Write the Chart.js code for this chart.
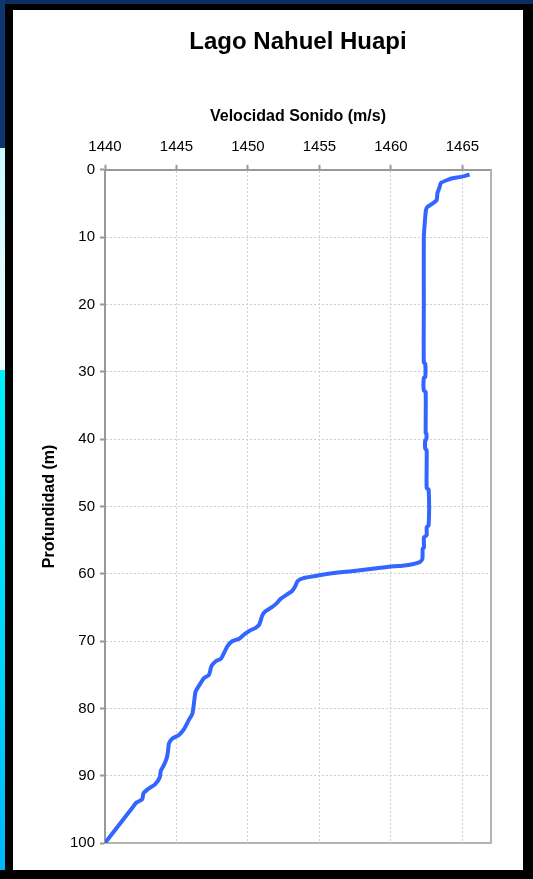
<!DOCTYPE html>
<html lang="es">
<head>
<meta charset="utf-8">
<title>Lago Nahuel Huapi</title>
<script src="https://cdn.jsdelivr.net/npm/chart.js@4.4.1/dist/chart.umd.min.js"></script>
<style>
  body{margin:0;background:#000;width:533px;height:879px;position:relative;overflow:hidden;}
  #franjaTop{position:absolute;left:0;top:0;width:533px;height:4px;background:#0b2d63;}
  #franjaIzq{position:absolute;left:0;top:0;width:5px;height:870px;
    background:linear-gradient(to bottom,#0d3570 0px,#0d3570 148px,#c9f9ff 148px,#effeff 370px,#00f0ff 370px,#00d0ff 700px,#00b4ff 870px);}
  #panel{position:absolute;left:13px;top:10px;width:510px;height:860px;background:#fff;}
</style>
</head>
<body>
<div id="franjaTop"></div>
<div id="franjaIzq"></div>
<div id="panel"><canvas id="graficoPerfil" width="510" height="860"></canvas></div>
<script>
const velocidad = [
  1465.5, 1464.9, 1464.3, 1463.9, 1463.5, 1463.4, 1463.25, 1463.2, 1462.95, 1462.55,
  1462.45, 1462.4, 1462.35, 1462.3, 1462.3, 1462.3, 1462.4, 1462.4, 1462.3, 1462.3,
  1462.43, 1462.43, 1462.48, 1462.48, 1462.4, 1462.4, 1462.5, 1462.5, 1462.64, 1462.64,
  1462.5, 1462.5, 1462.31, 1462.31, 1462.22, 1462.2, 1462.0, 1461.5, 1460.8, 1460.16,
  1459.0, 1457.84, 1456.67, 1455.51, 1454.81, 1453.88, 1453.47, 1453.3, 1453.07, 1452.72,
  1452.3, 1452.0, 1451.65, 1451.2, 1451.0, 1450.8, 1450.56, 1450.09, 1449.74, 1449.39,
  1448.92, 1448.57, 1448.33, 1448.1, 1447.75, 1447.44, 1447.28, 1446.92, 1446.69, 1446.34,
  1446.25, 1446.12, 1445.86, 1445.55, 1445.15, 1444.7, 1444.47, 1444.4, 1444.3, 1444.1,
  1443.9, 1443.83, 1443.5, 1443.1, 1442.7, 1442.6, 1442.2, 1441.9, 1440.0
];
const profundidad = [
  0.7, 1.05, 1.25, 1.55, 1.95, 2.6, 3.5, 4.5, 4.95, 5.5,
  6.0, 7.0, 8.4, 10, 20, 28.6, 28.8, 30.8, 30.9, 32.8,
  33.0, 39.1, 39.2, 40.0, 40.2, 41.4, 41.7, 47.3, 47.5, 52.8,
  53.1, 54.3, 54.6, 56.1, 56.3, 57.8, 58.3, 58.6, 58.8, 58.9,
  59.2, 59.5, 59.75, 60.05, 60.3, 60.65, 61.1, 61.9, 62.6, 63.1,
  63.7, 64.4, 65.0, 65.6, 66.2, 67.5, 68, 68.5, 69, 69.65,
  70, 70.75, 71.75, 72.65, 73, 73.75, 75, 75.5, 76.25, 77.5,
  78.75, 80.75, 81.75, 83, 84, 84.5, 85.25, 86.5, 87.5, 88.5,
  89.3, 90.25, 91.3, 91.85, 92.6, 93.5, 94, 94.8, 100
];

// limites de los ejes
const limitesVelocidad = [1440, 1467];
const limitesProfundidad = [0, 100];

const puntos = velocidad.map((v, i) => ({x: v, y: profundidad[i]}));

const fuente = "'Liberation Sans', Arial, sans-serif";

//marco derecho e inferior del area del grafico
const marco = {
  id: 'marco',
  beforeDatasetsDraw(chart){
    const {ctx, chartArea: a} = chart;
    ctx.save();
    ctx.strokeStyle = '#b4b4b4';
    ctx.lineWidth = 2;
    ctx.beginPath();
    ctx.moveTo(a.right, a.top);
    ctx.lineTo(a.right, a.bottom);
    ctx.lineTo(a.left, a.bottom);
    ctx.stroke();
    ctx.restore();
  }
};

const ctx = document.getElementById('graficoPerfil').getContext('2d');
window.myChart = new Chart(ctx, {
  type: 'scatter',
  data: {
    datasets: [{
      data: puntos,
      showLine: true,
      borderColor: '#3366ff',
      borderWidth: 4,
      pointRadius: 0,
      tension: 0.2
    }]
  },
  options: {
    responsive: false,
    animation: false,
    layout: { padding: { top: 0, left: 0, right: 32, bottom: 27 } },
    plugins: {
      legend: { display: false },
      tooltip: { enabled: false },
      title: {
        display: true,
        fullSize: false,
        text: 'Lago Nahuel Huapi',
        color: '#000',
        font: { family: fuente, size: 24, weight: 'bold' },
        padding: { top: 18, bottom: 10 }
      }
    },
    scales: {
      x: {
        type: 'linear',
        position: 'top',
        min: limitesVelocidad[0],
        max: limitesVelocidad[1],
        afterFit: s => { s.height = 103; },
        ticks: {
          stepSize: 5,
          includeBounds: false,
          color: '#000',
          padding: 9,
          font: { family: fuente, size: 15 },
          callback: v => String(v)
        },
        grid: { color: '#cfcfcf', lineWidth: 1, tickLength: 5, tickColor: '#999', tickWidth: 2 },
        border: { color: '#999', width: 2, dash: [2, 2] },
        title: {
          display: true,
          text: 'Velocidad Sonido (m/s)',
          color: '#000',
          font: { family: fuente, size: 16, weight: 'bold' },
          padding: { top: 40, bottom: 0 }
        }
      },
      y: {
        type: 'linear',
        reverse: true,
        min: limitesProfundidad[0],
        max: limitesProfundidad[1],
        afterFit: s => { s.width = 92; },
        ticks: {
          stepSize: 10,
          color: '#000',
          padding: 5,
          font: { family: fuente, size: 15 },
          callback: v => String(v)
        },
        grid: { color: '#cfcfcf', lineWidth: 1, tickLength: 5, tickColor: '#999', tickWidth: 2 },
        border: { color: '#999', width: 2, dash: [2, 2] },
        title: {
          display: true,
          text: 'Profundidad (m)',
          color: '#000',
          font: { family: fuente, size: 16, weight: 'bold' },
          padding: { top: 27, bottom: 0 }
        }
      }
    }
  },
  plugins: [marco]
});
</script>
</body>
</html>
